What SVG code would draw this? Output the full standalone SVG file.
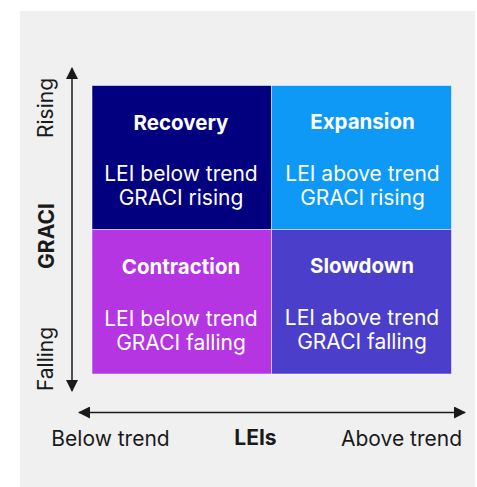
<svg xmlns="http://www.w3.org/2000/svg" width="477" height="487" viewBox="0 0 477 487">
<style>
.q{stroke:#ffffff;stroke-opacity:0.5;stroke-width:1}
.t{font-family:Inter,"Liberation Sans",sans-serif;fill:#ffffff;text-anchor:middle}
.h{font-size:20.5px;font-weight:700}
.b{font-size:21px;font-weight:400}
.ax{font-family:Inter,"Liberation Sans",sans-serif;fill:#1a1a1a;font-size:21px;text-anchor:middle}
.bold{font-weight:700;font-size:21px}
.ln{stroke:#1a1a1a;stroke-width:1.5;fill:none}
</style>
<defs>
<marker id="ah" viewBox="0 0 12 12" refX="11" refY="6" markerWidth="12" markerHeight="12" markerUnits="userSpaceOnUse" orient="auto">
<path d="M0,0 L12,6 L0,12 Z" fill="#1a1a1a"/>
</marker>
</defs>
<rect x="20" y="11" width="455" height="476" fill="#f0f0f0"/>
<g id="recovery">
<rect class="q" x="92" y="85.5" width="179.5" height="144" fill="#03007f"/>
<text class="t h" x="181" y="129.5">Recovery</text>
<text class="t b" x="181" y="181">LEI below trend</text>
<text class="t b" x="181" y="205">GRACI rising</text>
</g>
<g id="expansion">
<rect class="q" x="271.5" y="85.5" width="180" height="144" fill="#0d99f5"/>
<text class="t h" x="362.5" y="129">Expansion</text>
<text class="t b" x="362.5" y="181">LEI above trend</text>
<text class="t b" x="362.5" y="205">GRACI rising</text>
</g>
<g id="contraction">
<rect class="q" x="92" y="229.5" width="179.5" height="144.5" fill="#b535e2"/>
<text class="t h" x="181" y="274">Contraction</text>
<text class="t b" x="181" y="325.5">LEI below trend</text>
<text class="t b" x="181" y="349.5">GRACI falling</text>
</g>
<g id="slowdown">
<rect class="q" x="271.5" y="229.5" width="180" height="144.5" fill="#4a3ecb"/>
<text class="t h" x="362" y="272.5">Slowdown</text>
<text class="t b" x="362" y="325">LEI above trend</text>
<text class="t b" x="362" y="349">GRACI falling</text>
</g>
<g id="connectors">
<line class="ln" x1="72" y1="230" x2="72" y2="68" marker-end="url(#ah)"/>
<line class="ln" x1="72" y1="230" x2="72" y2="391" marker-end="url(#ah)"/>
<line class="ln" x1="270" y1="412.5" x2="79" y2="412.5" marker-end="url(#ah)"/>
<line class="ln" x1="270" y1="412.5" x2="465" y2="412.5" marker-end="url(#ah)"/>
</g>
<g id="labels">
<text class="ax" transform="translate(52.5,108) rotate(-90)">Rising</text>
<text class="ax bold" transform="translate(53.5,236) rotate(-90)">GRACI</text>
<text class="ax" transform="translate(52.5,359) rotate(-90)">Falling</text>
<text class="ax" x="110.5" y="446">Below trend</text>
<text class="ax bold" x="255.5" y="445">LEIs</text>
<text class="ax" x="401.5" y="446">Above trend</text>
</g>
</svg>
